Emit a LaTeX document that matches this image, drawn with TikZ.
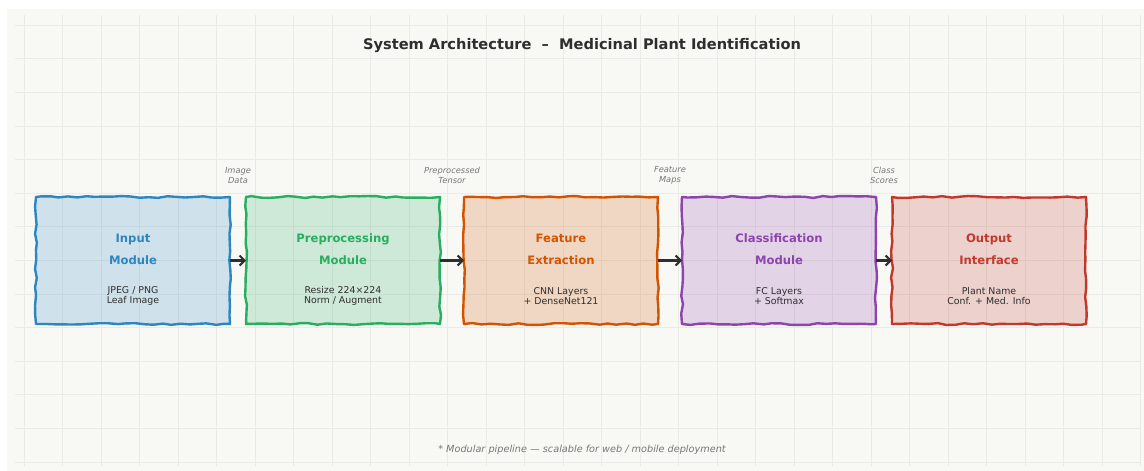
\documentclass[tikz,border=0pt]{standalone}
\usepackage{fontspec}
\setmainfont{DejaVu Sans}
\usepackage{tikz}
\usetikzlibrary{positioning,arrows.meta,decorations.pathmorphing}

\definecolor{bgpanel}{HTML}{F8F8F5}
\definecolor{gridc}{HTML}{EAEAE6}
\definecolor{inC}{HTML}{2E86C1}
\definecolor{preC}{HTML}{27AE60}
\definecolor{featC}{HTML}{D35400}
\definecolor{clsC}{HTML}{8E44AD}
\definecolor{outC}{HTML}{C0392B}
\definecolor{txtC}{HTML}{2E2E2E}
\definecolor{noteC}{HTML}{777777}

\begin{document}
\pgfmathsetseed{11}
\begin{tikzpicture}[x=1pt, y=1pt,
    >={Straight Barb[length=5pt,width=10pt,line width=2pt]},
    mbox/.style={%
      rectangle, draw=#1, fill=#1, fill opacity=0.2, line width=2.4pt,
      minimum width=194pt, minimum height=127pt, inner sep=0pt, outer sep=0pt,
      line join=round, decorate,
      decoration={random steps, segment length=9pt, amplitude=1pt}
    },
    ttl/.style={%
      font=\fontsize{11.6}{22}\selectfont\bfseries, align=center, inner sep=0pt
    },
    dtl/.style={%
      font=\fontsize{9.4}{10.5}\selectfont, text=txtC, align=center, inner sep=0pt
    },
    flow/.style={->, draw=txtC, line width=2.2pt},
    flbl/.style={%
      font=\fontsize{8.3}{9.5}\selectfont\itshape, text=noteC, align=center,
      inner sep=0pt, yshift=85pt
    },
    gridln/.style={draw=gridc, line width=0.6pt}
]
    % page and panel
    \useasboundingbox (0,0) rectangle (1144,-471);
    \fill[white] (0,0) rectangle (1144,-471);
    \fill[bgpanel] (7,-9) rectangle (1144,-471);
    \foreach \i in {0,...,29}
      \draw[gridln] ({24+38.5*\i},-15) -- ({24+38.5*\i},-466);
    \foreach \j in {0,...,13}
      \draw[gridln] (15,{-25-33.6*\j}) -- (1140,{-25-33.6*\j});

    \node[font=\fontsize{14.6}{17}\selectfont\bfseries, text=txtC] (head) at (582,-46)
      {System Architecture~~–~~Medicinal Plant Identification};

    % modules
    \node[mbox=inC]   (in)   at (133,-260.5)   {};
    \node[mbox=preC]  (pre)  [right=16pt of in]   {};
    \node[mbox=featC] (feat) [right=24pt of pre]  {};
    \node[mbox=clsC]  (cls)  [right=24pt of feat] {};
    \node[mbox=outC]  (out)  [right=16pt of cls]  {};

    \node[ttl, text=inC]   (inT)   at ([yshift=11pt]in.center)   {Input\\Module};
    \node[ttl, text=preC]  (preT)  at ([yshift=11pt]pre.center)  {Preprocessing\\Module};
    \node[ttl, text=featC] (featT) at ([yshift=11pt]feat.center) {Feature\\Extraction};
    \node[ttl, text=clsC]  (clsT)  at ([yshift=11pt]cls.center)  {Classification\\Module};
    \node[ttl, text=outC]  (outT)  at ([yshift=11pt]out.center)  {Output\\Interface};

    \node[dtl] (inD)   at ([yshift=-35.5pt]in.center)   {JPEG / PNG\\Leaf Image};
    \node[dtl] (preD)  at ([yshift=-35.5pt]pre.center)  {Resize 224×224\\Norm / Augment};
    \node[dtl] (featD) at ([yshift=-35.5pt]feat.center) {CNN Layers\\+ DenseNet121};
    \node[dtl] (clsD)  at ([yshift=-35.5pt]cls.center)  {FC Layers\\+ Softmax};
    \node[dtl] (outD)  at ([yshift=-35.5pt]out.center)  {Plant Name\\Conf. + Med. Info};

    \path (in)   edge[flow] node[flbl] (lblA) {Image\\Data}          (pre)
          (pre)  edge[flow] node[flbl] (lblB) {Preprocessed\\Tensor} (feat)
          (feat) edge[flow] node[flbl] (lblC) {Feature\\Maps}        (cls)
          (cls)  edge[flow] node[flbl] (lblD) {Class\\Scores}        (out)
    ;

    \node[font=\fontsize{9.7}{11}\selectfont\itshape, text=noteC] (foot) at (582,-450)
      {* Modular pipeline — scalable for web / mobile deployment};
\end{tikzpicture}
\end{document}
